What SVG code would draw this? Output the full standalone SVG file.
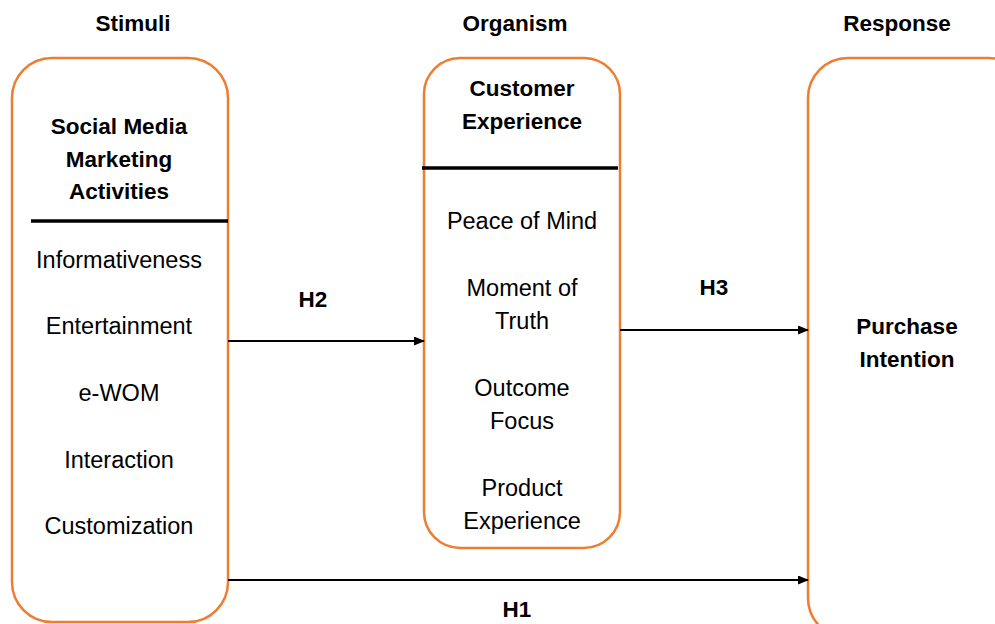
<svg xmlns="http://www.w3.org/2000/svg" width="995" height="624" viewBox="0 0 995 624">
<defs>
<style>
.box{fill:#fff;stroke:#ED7D31;stroke-width:2.5}
.sep{stroke:#000;stroke-width:3.5}
.t{font-family:"Liberation Sans",Arial,sans-serif;font-size:23.5px;fill:#000;text-anchor:middle}
.b{font-weight:bold;font-size:22.5px}
.conn line{stroke:#000;stroke-width:2}
</style>
<marker id="ah" markerWidth="11" markerHeight="9" refX="10" refY="4.5" orient="auto" markerUnits="userSpaceOnUse">
<path d="M0,0 L11,4.5 L0,9 Z" fill="#000"/>
</marker>
</defs>
<rect width="995" height="624" fill="#fff"/>
<g id="headers">
<text class="t b" x="133" y="31">Stimuli</text>
<text class="t b" x="515" y="31">Organism</text>
<text class="t b" x="897" y="31">Response</text>
</g>
<g id="stimuli">
<rect class="box" x="12" y="58" width="216" height="564" rx="40"/>
<line class="sep" x1="31" y1="221" x2="228" y2="221"/>
<text class="t b" x="119" y="134">Social Media</text>
<text class="t b" x="119" y="167">Marketing</text>
<text class="t b" x="119" y="199">Activities</text>
<text class="t" x="119" y="268">Informativeness</text>
<text class="t" x="119" y="334">Entertainment</text>
<text class="t" x="119" y="401">e-WOM</text>
<text class="t" x="119" y="468">Interaction</text>
<text class="t" x="119" y="534">Customization</text>
</g>
<g id="organism">
<rect class="box" x="424" y="58" width="196" height="490" rx="36"/>
<line class="sep" x1="422" y1="168" x2="618" y2="168"/>
<text class="t b" x="522" y="96">Customer</text>
<text class="t b" x="522" y="129">Experience</text>
<text class="t" x="522" y="229">Peace of Mind</text>
<text class="t" x="522" y="296">Moment of</text>
<text class="t" x="522" y="329">Truth</text>
<text class="t" x="522" y="396">Outcome</text>
<text class="t" x="522" y="429">Focus</text>
<text class="t" x="522" y="496">Product</text>
<text class="t" x="522" y="529">Experience</text>
</g>
<g id="response">
<rect class="box" x="808" y="58" width="220" height="580" rx="40"/>
<text class="t b" x="907" y="334">Purchase</text>
<text class="t b" x="907" y="367">Intention</text>
</g>
<g id="connectors" class="conn">
<line x1="228" y1="341" x2="424" y2="341" marker-end="url(#ah)"/>
<line x1="620" y1="330" x2="808" y2="330" marker-end="url(#ah)"/>
<line x1="228" y1="580" x2="808" y2="580" marker-end="url(#ah)"/>
<text class="t b" x="313" y="307">H2</text>
<text class="t b" x="714" y="295">H3</text>
<text class="t b" x="517" y="617">H1</text>
</g>
</svg>
